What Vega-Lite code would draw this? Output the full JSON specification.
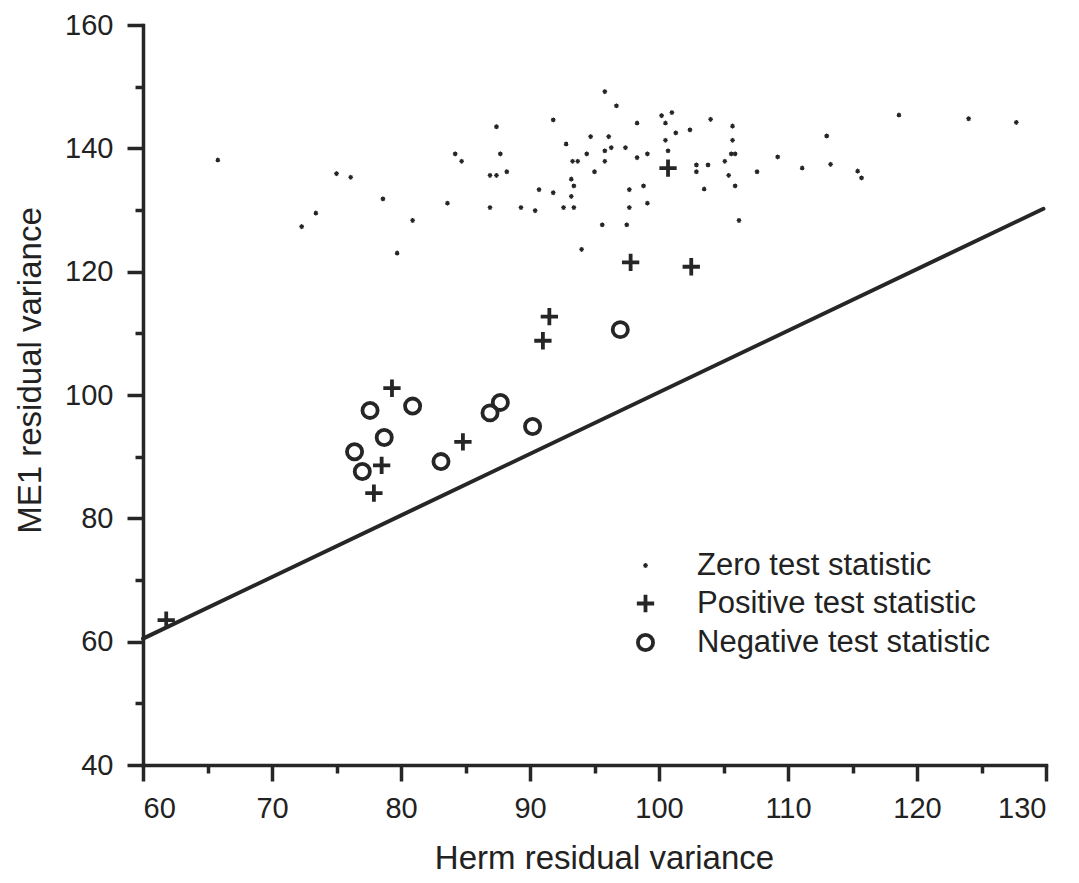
{
  "$schema": "https://vega.github.io/schema/vega-lite/v6.json",
  "width": 903,
  "height": 740,
  "autosize": {"type": "none"},
  "padding": {"left": 143, "top": 25, "right": 33, "bottom": 118},
  "background": "white",
  "config": {
    "view": {"stroke": null},
    "font": "Liberation Sans",
    "axis": {
      "domainColor": "#262626", "domainWidth": 3.5, "domainCap": "square",
      "tickColor": "#262626", "tickWidth": 3.5, "grid": false,
      "labelFont": "Liberation Sans", "labelFontSize": 29, "labelColor": "#222222",
      "titleFont": "Liberation Sans", "titleFontSize": 33, "titleColor": "#222222", "titleFontWeight": "normal"
    }
  },
  "datasets": {
    "refline": [
      {"herm": 60, "me1": 60.5},
      {"herm": 129.8, "me1": 130.2}
    ],
    "pts": [
      {"herm": 65.8, "me1": 138.1, "type": "Zero test statistic"},
      {"herm": 72.3, "me1": 127.3, "type": "Zero test statistic"},
      {"herm": 73.4, "me1": 129.5, "type": "Zero test statistic"},
      {"herm": 75.0, "me1": 135.9, "type": "Zero test statistic"},
      {"herm": 76.1, "me1": 135.3, "type": "Zero test statistic"},
      {"herm": 78.6, "me1": 131.8, "type": "Zero test statistic"},
      {"herm": 79.7, "me1": 123.0, "type": "Zero test statistic"},
      {"herm": 80.9, "me1": 128.3, "type": "Zero test statistic"},
      {"herm": 83.6, "me1": 131.1, "type": "Zero test statistic"},
      {"herm": 84.2, "me1": 139.1, "type": "Zero test statistic"},
      {"herm": 84.7, "me1": 137.9, "type": "Zero test statistic"},
      {"herm": 86.9, "me1": 135.6, "type": "Zero test statistic"},
      {"herm": 87.4, "me1": 135.6, "type": "Zero test statistic"},
      {"herm": 87.4, "me1": 143.5, "type": "Zero test statistic"},
      {"herm": 87.7, "me1": 139.1, "type": "Zero test statistic"},
      {"herm": 88.2, "me1": 136.2, "type": "Zero test statistic"},
      {"herm": 86.9, "me1": 130.4, "type": "Zero test statistic"},
      {"herm": 89.3, "me1": 130.4, "type": "Zero test statistic"},
      {"herm": 90.4, "me1": 129.9, "type": "Zero test statistic"},
      {"herm": 90.7, "me1": 133.3, "type": "Zero test statistic"},
      {"herm": 91.8, "me1": 144.6, "type": "Zero test statistic"},
      {"herm": 91.8, "me1": 132.8, "type": "Zero test statistic"},
      {"herm": 92.6, "me1": 130.4, "type": "Zero test statistic"},
      {"herm": 92.8, "me1": 140.7, "type": "Zero test statistic"},
      {"herm": 93.2, "me1": 135.0, "type": "Zero test statistic"},
      {"herm": 93.4, "me1": 133.9, "type": "Zero test statistic"},
      {"herm": 93.2, "me1": 132.2, "type": "Zero test statistic"},
      {"herm": 93.4, "me1": 130.4, "type": "Zero test statistic"},
      {"herm": 93.3, "me1": 137.9, "type": "Zero test statistic"},
      {"herm": 93.7, "me1": 137.9, "type": "Zero test statistic"},
      {"herm": 95.8, "me1": 149.2, "type": "Zero test statistic"},
      {"herm": 96.7, "me1": 146.9, "type": "Zero test statistic"},
      {"herm": 94.7, "me1": 141.9, "type": "Zero test statistic"},
      {"herm": 96.1, "me1": 141.9, "type": "Zero test statistic"},
      {"herm": 98.3, "me1": 144.1, "type": "Zero test statistic"},
      {"herm": 100.2, "me1": 145.3, "type": "Zero test statistic"},
      {"herm": 101.0, "me1": 145.8, "type": "Zero test statistic"},
      {"herm": 100.5, "me1": 144.1, "type": "Zero test statistic"},
      {"herm": 101.3, "me1": 142.5, "type": "Zero test statistic"},
      {"herm": 102.4, "me1": 143.0, "type": "Zero test statistic"},
      {"herm": 104.0, "me1": 144.7, "type": "Zero test statistic"},
      {"herm": 105.7, "me1": 143.6, "type": "Zero test statistic"},
      {"herm": 105.7, "me1": 141.3, "type": "Zero test statistic"},
      {"herm": 105.6, "me1": 139.1, "type": "Zero test statistic"},
      {"herm": 105.9, "me1": 139.1, "type": "Zero test statistic"},
      {"herm": 100.5, "me1": 141.3, "type": "Zero test statistic"},
      {"herm": 100.7, "me1": 139.6, "type": "Zero test statistic"},
      {"herm": 99.1, "me1": 139.1, "type": "Zero test statistic"},
      {"herm": 98.3, "me1": 138.5, "type": "Zero test statistic"},
      {"herm": 97.4, "me1": 140.1, "type": "Zero test statistic"},
      {"herm": 96.3, "me1": 140.1, "type": "Zero test statistic"},
      {"herm": 95.8, "me1": 139.6, "type": "Zero test statistic"},
      {"herm": 94.4, "me1": 139.1, "type": "Zero test statistic"},
      {"herm": 95.8, "me1": 137.9, "type": "Zero test statistic"},
      {"herm": 95.0, "me1": 136.2, "type": "Zero test statistic"},
      {"herm": 95.6, "me1": 127.6, "type": "Zero test statistic"},
      {"herm": 97.5, "me1": 127.6, "type": "Zero test statistic"},
      {"herm": 97.7, "me1": 130.4, "type": "Zero test statistic"},
      {"herm": 97.7, "me1": 133.3, "type": "Zero test statistic"},
      {"herm": 98.8, "me1": 133.9, "type": "Zero test statistic"},
      {"herm": 99.1, "me1": 131.1, "type": "Zero test statistic"},
      {"herm": 94.0, "me1": 123.6, "type": "Zero test statistic"},
      {"herm": 102.9, "me1": 137.3, "type": "Zero test statistic"},
      {"herm": 102.9, "me1": 136.2, "type": "Zero test statistic"},
      {"herm": 103.8, "me1": 137.3, "type": "Zero test statistic"},
      {"herm": 105.1, "me1": 137.9, "type": "Zero test statistic"},
      {"herm": 105.4, "me1": 135.6, "type": "Zero test statistic"},
      {"herm": 105.9, "me1": 133.9, "type": "Zero test statistic"},
      {"herm": 103.5, "me1": 133.4, "type": "Zero test statistic"},
      {"herm": 106.2, "me1": 128.3, "type": "Zero test statistic"},
      {"herm": 107.6, "me1": 136.2, "type": "Zero test statistic"},
      {"herm": 109.2, "me1": 138.6, "type": "Zero test statistic"},
      {"herm": 111.1, "me1": 136.8, "type": "Zero test statistic"},
      {"herm": 113.0, "me1": 142.0, "type": "Zero test statistic"},
      {"herm": 113.3, "me1": 137.4, "type": "Zero test statistic"},
      {"herm": 115.4, "me1": 136.3, "type": "Zero test statistic"},
      {"herm": 115.7, "me1": 135.2, "type": "Zero test statistic"},
      {"herm": 118.6, "me1": 145.4, "type": "Zero test statistic"},
      {"herm": 124.0, "me1": 144.8, "type": "Zero test statistic"},
      {"herm": 127.7, "me1": 144.2, "type": "Zero test statistic"},
      {"herm": 100.7, "me1": 136.8, "type": "Positive test statistic"},
      {"herm": 97.8, "me1": 121.5, "type": "Positive test statistic"},
      {"herm": 102.5, "me1": 120.8, "type": "Positive test statistic"},
      {"herm": 91.5, "me1": 112.7, "type": "Positive test statistic"},
      {"herm": 91.0, "me1": 108.8, "type": "Positive test statistic"},
      {"herm": 79.3, "me1": 101.1, "type": "Positive test statistic"},
      {"herm": 84.8, "me1": 92.4, "type": "Positive test statistic"},
      {"herm": 78.5, "me1": 88.6, "type": "Positive test statistic"},
      {"herm": 77.9, "me1": 84.1, "type": "Positive test statistic"},
      {"herm": 61.8, "me1": 63.5, "type": "Positive test statistic"},
      {"herm": 97.0, "me1": 110.6, "type": "Negative test statistic"},
      {"herm": 77.6, "me1": 97.5, "type": "Negative test statistic"},
      {"herm": 80.9, "me1": 98.2, "type": "Negative test statistic"},
      {"herm": 87.7, "me1": 98.8, "type": "Negative test statistic"},
      {"herm": 86.9, "me1": 97.1, "type": "Negative test statistic"},
      {"herm": 78.7, "me1": 93.1, "type": "Negative test statistic"},
      {"herm": 90.2, "me1": 94.9, "type": "Negative test statistic"},
      {"herm": 76.4, "me1": 90.8, "type": "Negative test statistic"},
      {"herm": 77.0, "me1": 87.6, "type": "Negative test statistic"},
      {"herm": 83.1, "me1": 89.2, "type": "Negative test statistic"}
    ]
  },
  "encoding": {
    "x": {
      "field": "herm", "type": "quantitative",
      "scale": {"domain": [60, 130], "nice": false, "zero": false},
      "axis": {
        "values": [60, 65, 70, 75, 80, 85, 90, 95, 100, 105, 110, 115, 120, 125, 130],
        "labelExpr": "datum.value % 10 === 0 ? datum.label : ''",
        "tickSize": {"condition": {"test": "datum.value % 10 === 0", "value": 16}, "value": 8},
        "labelPadding": 13,
        "title": "Herm residual variance",
        "titleAlign": "center", "titleAnchor": null,
        "titleX": 461, "titleY": 103, "titleBaseline": "alphabetic"
      }
    },
    "y": {
      "field": "me1", "type": "quantitative",
      "scale": {"domain": [40, 160], "nice": false, "zero": false},
      "axis": {
        "values": [40, 50, 60, 70, 80, 90, 100, 110, 120, 130, 140, 150, 160],
        "labelExpr": "datum.value % 20 === 0 ? datum.label : ''",
        "tickSize": {"condition": {"test": "datum.value % 20 === 0", "value": 16}, "value": 8},
        "labelPadding": 14,
        "title": "ME1 residual variance",
        "titleAngle": 270, "titleAlign": "center", "titleAnchor": null,
        "titleX": -103, "titleY": 345, "titleBaseline": "alphabetic"
      }
    }
  },
  "layer": [
    {
      "data": {"name": "refline"},
      "mark": {"type": "line", "color": "#262626", "strokeWidth": 4, "strokeCap": "round"},
      "encoding": {}
    },
    {
      "data": {"name": "pts"},
      "mark": {"type": "point", "filled": false, "color": "#262626", "strokeWidth": 3.8, "opacity": 1},
      "encoding": {
        "shape": {
          "field": "type", "type": "nominal",
          "scale": {
            "domain": ["Zero test statistic", "Positive test statistic", "Negative test statistic"],
            "range": ["M-1,0H1M0,-1V1M-0.7,-0.7L0.7,0.7M-0.7,0.7L0.7,-0.7", "M-1,0H1M0,-1V1", "circle"]
          },
          "legend": {
            "title": null, "orient": "none", "legendX": 487, "legendY": 525, "padding": 0,
            "labelFont": "Liberation Sans", "labelFontSize": 31, "labelColor": "#222222", "labelLimit": 0,
            "labelOffset": 36, "rowPadding": 6,
            "symbolStrokeColor": "#262626", "symbolStrokeWidth": 3.8
          }
        },
        "size": {
          "field": "type", "type": "nominal",
          "scale": {
            "type": "ordinal",
            "domain": ["Zero test statistic", "Positive test statistic", "Negative test statistic"],
            "range": [12, 300, 230]
          },
          "legend": {
            "title": null, "orient": "none", "legendX": 487, "legendY": 525, "padding": 0,
            "labelFont": "Liberation Sans", "labelFontSize": 31, "labelColor": "#222222", "labelLimit": 0,
            "labelOffset": 36, "rowPadding": 6,
            "symbolStrokeColor": "#262626", "symbolStrokeWidth": 3.8
          }
        }
      }
    }
  ]
}
